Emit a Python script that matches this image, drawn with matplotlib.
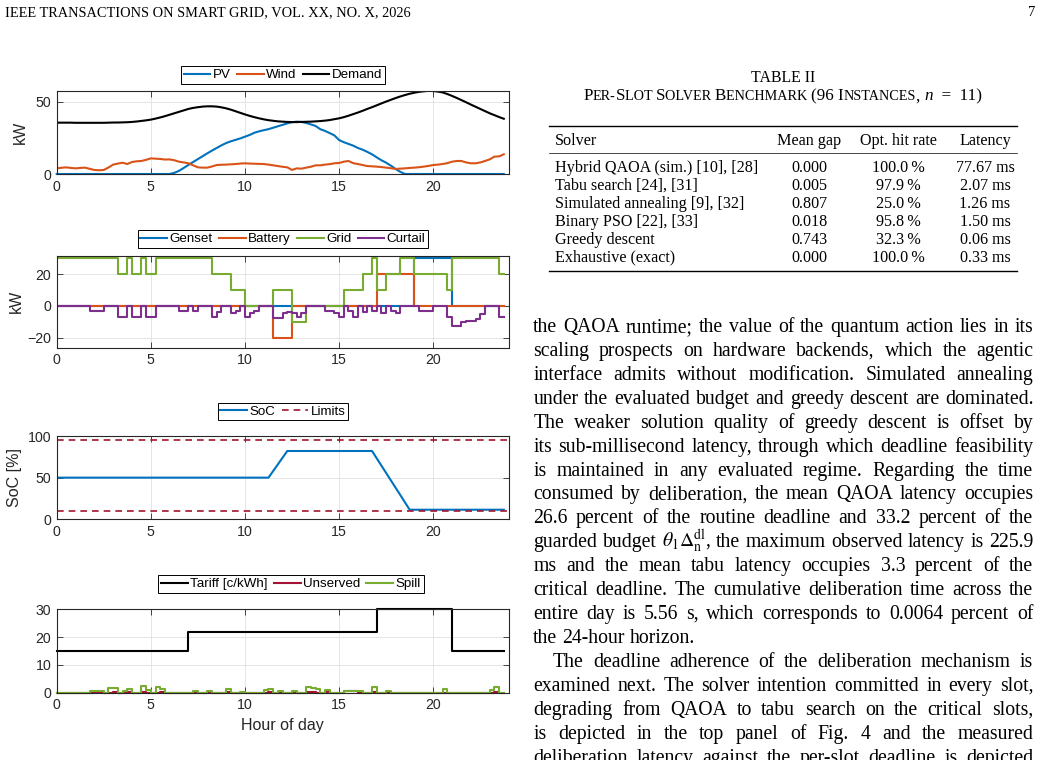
import numpy as np
import matplotlib
matplotlib.use('Agg')
import matplotlib.pyplot as plt
from matplotlib.lines import Line2D

# ---------------- data (96 quarter-hour slots) ----------------
hours = np.arange(96) * 0.25

demand = [35.5, 35.5, 35.5, 35.5, 35.4, 35.4, 35.4, 35.4, 35.4, 35.4, 35.4, 35.5, 35.6, 35.6, 35.7, 35.8,
          36.0, 36.3, 36.7, 37.1, 37.6, 38.3, 39.1, 40.0, 41.0, 42.0, 43.0, 44.0, 45.0, 45.7, 46.2, 46.6,
          46.8, 46.8, 46.6, 46.1, 45.4, 44.5, 43.4, 42.3, 41.2, 40.2, 39.3, 38.5, 37.8, 37.2, 36.8, 36.4,
          36.2, 36.0, 35.9, 35.9, 36.0, 36.1, 36.2, 36.4, 36.6, 36.9, 37.3, 37.9, 38.5, 39.3, 40.3, 41.4,
          42.5, 43.7, 45.0, 46.2, 47.5, 48.8, 50.1, 51.3, 52.5, 53.6, 54.6, 55.5, 56.2, 56.8, 57.2, 57.5,
          57.4, 57.0, 56.4, 55.3, 54.0, 52.6, 51.1, 49.6, 48.0, 46.5, 45.0, 43.5, 42.0, 40.7, 39.4, 38.2]

pv = [0, 0, 0, 0, 0, 0, 0, 0, 0, 0, 0, 0, 0, 0, 0, 0,
      0, 0, 0, 0, 0, 0, 0, 0, 0.0, 0.8, 2.2, 4.2, 6.3, 8.3, 10.3, 12.3,
      14.3, 16.2, 18.0, 19.8, 21.4, 22.6, 23.6, 24.6, 25.8, 27.0, 28.5, 29.5, 30.3, 31.0, 32.0, 33.0,
      34.0, 35.0, 35.8, 36.2, 36.0, 35.3, 34.3, 33.2, 31.0, 29.8, 28.3, 26.7, 23.5, 22.0, 20.8, 19.6,
      18.0, 16.8, 15.3, 13.6, 11.5, 9.5, 7.8, 5.8, 3.5, 1.5, 0.0, 0.0, 0, 0, 0, 0,
      0, 0, 0, 0, 0, 0, 0, 0, 0, 0, 0, 0, 0, 0, 0, 0]

wind = [3.9, 4.3, 4.6, 4.2, 3.9, 4.2, 4.4, 3.6, 2.8, 2.6, 2.8, 4.5, 6.5, 7.2, 7.8, 6.9,
        8.3, 8.8, 9.0, 9.8, 10.8, 10.6, 10.4, 10.0, 10.1, 9.5, 8.5, 8.0, 7.4, 6.0, 4.6, 4.4,
        4.4, 5.2, 6.2, 6.4, 6.5, 6.7, 6.9, 7.2, 7.4, 7.2, 7.1, 7.0, 6.9, 6.5, 6.0, 5.5,
        5.0, 4.6, 2.8, 3.9, 3.7, 4.4, 5.0, 6.0, 6.0, 6.5, 6.8, 7.4, 7.6, 8.5, 9.0, 7.5,
        6.9, 6.2, 5.5, 5.3, 5.1, 4.8, 4.4, 4.0, 3.5, 3.7, 3.9, 4.2, 4.4, 4.7, 5.1, 5.6,
        6.2, 6.5, 6.9, 7.5, 8.5, 9.0, 9.0, 8.0, 7.4, 7.4, 8.0, 9.0, 10.1, 12.0, 12.2, 13.6]

genset = [0, 0, 0, 0, 0, 0, 0, 0, 0, 0, 0, 0, 0, 0, 0, 0,
          0, 0, 0, 0, 0, 0, 0, 0, 0, 0, 0, 0, 0, 0, 0, 0,
          0, 0, 0, 0, 0, 0, 0, 0, 0, 0, 0, 0, 0, 0, 0, 0,
          0, 0, 0, 0, 0, 0, 0, 0, 0, 0, 0, 0, 0, 0, 0, 0,
          0, 0, 0, 0, 0, 0, 0, 0, 0, 0, 0, 0, 30, 30, 30, 30,
          30, 30, 30, 30, 0, 0, 0, 0, 0, 0, 0, 0, 0, 0, 0, 0]

battery = [0, 0, 0, 0, 0, 0, 0, 0, 0, 0, 0, 0, 0, 0, 0, 0,
           0, 0, 0, 0, 0, 0, 0, 0, 0, 0, 0, 0, 0, 0, 0, 0,
           0, 0, 0, 0, 0, 0, 0, 0, 0, 0, 0, 0, 0, 0, -20, -20,
           -20, -20, 0, 0, 0, 0, 0, 0, 0, 0, 0, 0, 0, 0, 0, 0,
           0, 0, 0, 0, 20, 20, 20, 20, 20, 20, 20, 20, 0, 0, 0, 0,
           0, 0, 0, 0, 0, 0, 0, 0, 0, 0, 0, 0, 0, 0, 0, 0]

grid = [30, 30, 30, 30, 30, 30, 30, 30, 30, 30, 30, 30, 30, 20, 20, 30,
        20, 20, 30, 20, 20, 30, 30, 30, 30, 30, 30, 30, 30, 30, 30, 30,
        30, 20, 20, 20, 20, 10, 10, 10, 0, 0, 0, 0, 0, 0, 10, 10,
        10, 10, -10, -10, -10, 0, 0, 0, 0, 0, 0, 0, 0, 10, 10, 10,
        10, 20, 20, 30, 10, 10, 20, 20, 20, 30, 30, 30, 20, 20, 20, 20,
        20, 20, 20, 10, 30, 30, 30, 30, 30, 30, 30, 30, 30, 30, 20, 20]

curtail = [0, 0, 0, 0, 0, 0, 0, -3, -3, -3, 0, 0, 0, -7, -7, 0,
           -7, -7, 0, -7, -7, 0, 0, 0, 0, 0, -3, -3, 0, -3, 0, 0,
           0, -7, -4, 0, 0, -4.5, -3, 0, -7, -4.5, -3, 0, 0, 0, -7.5, -7.5,
           -4.5, -3.5, -4.5, -7, -4.5, 0, 0, 0, 0, -3, -3, -4.5, -7, 0, -3, -7,
           0, -3.5, 0, -3, 0, -4.5, 0, -3, -4.5, 0, 0, 0, 0, -3, -3, -3,
           0, 0, 0, -7, -12.5, -12.5, -10, -9.5, -9.3, -8, -5, 0, 0, 0, -7, -7]

soc = [50, 50, 50, 50, 50, 50, 50, 50, 50, 50, 50, 50, 50, 50, 50, 50,
       50, 50, 50, 50, 50, 50, 50, 50, 50, 50, 50, 50, 50, 50, 50, 50,
       50, 50, 50, 50, 50, 50, 50, 50, 50, 50, 50, 50, 50, 50, 58, 66,
       74, 82, 82, 82, 82, 82, 82, 82, 82, 82, 82, 82, 82, 82, 82, 82,
       82, 82, 82, 82, 73.2, 64.4, 55.6, 46.8, 38.0, 29.2, 20.3, 11.5, 11.5, 11.5, 11.5, 11.5,
       11.5, 11.5, 11.5, 11.5, 11.5, 11.5, 11.5, 11.5, 11.5, 11.5, 11.5, 11.5, 11.5, 11.5, 11.5, 11.5]
soc_limits = [10, 95]

tariff = [15, 15, 15, 15, 15, 15, 15, 15, 15, 15, 15, 15, 15, 15, 15, 15,
          15, 15, 15, 15, 15, 15, 15, 15, 15, 15, 15, 15, 22, 22, 22, 22,
          22, 22, 22, 22, 22, 22, 22, 22, 22, 22, 22, 22, 22, 22, 22, 22,
          22, 22, 22, 22, 22, 22, 22, 22, 22, 22, 22, 22, 22, 22, 22, 22,
          22, 22, 22, 22, 30, 30, 30, 30, 30, 30, 30, 30, 30, 30, 30, 30,
          30, 30, 30, 30, 15, 15, 15, 15, 15, 15, 15, 15, 15, 15, 15, 15]

unserved = [0, 0, 0, 0, 0, 0, 0, 0, 0.4, 0.4, 0, 0, 0.4, 0, 0, 0.3,
            0, 0, 0.4, 0, 0, 0, 0.4, 0, 0, 0, 0, 0, 0, 0, 0, 0,
            0.3, 0, 0, 0, 0.3, 0, 0, 0, 0, 0, 0, 0, 0, 0.4, 0, 0,
            0, 0, 0, 0, 0, 0.4, 0.4, 0, 0, 0.3, 0, 0, 0, 0.5, 0.5, 0.5,
            0, 0, 0, 0.3, 0, 0, 0.3, 0, 0, 0, 0, 0, 0, 0, 0, 0,
            0, 0, 0, 0, 0, 0, 0, 0, 0, 0, 0, 0, 0, 0.4, 0, 0]

spill = [0, 0, 0, 0, 0, 0, 0, 0.6, 0.6, 0.6, 0, 1.6, 1.6, 0, 0.5, 1.5,
         0, 0, 2.3, 0.8, 0, 2.0, 1.4, 0, 0, 0, 0, 0, 0, 0.6, 0, 0,
         0.6, 0, 0, 0, 1.3, 0, 0, 0.4, 0, 0, 0, 0, 1.0, 1.4, 0, 0.6,
         0, 0, 0.5, 0, 0, 2.0, 1.8, 1.2, 0, 1.0, 0, 0, 0, 0.7, 0.7, 0.5,
         0.7, 0, 0, 1.9, 0, 0, 0.5, 0, 0, 0, 0, 0, 0, 0, 0, 0,
         0, 0, 1.3, 0, 0, 0, 0, 0, 0, 0, 0, 0, 1.0, 2.1, 0, 0]

xticks = [0, 5, 10, 15, 20]

table_cols = ['Solver', 'Mean gap', 'Opt. hit rate', 'Latency']
solvers = ['Hybrid QAOA (sim.) [10], [28]', 'Tabu search [24], [31]', 'Simulated annealing [9], [32]',
           'Binary PSO [22], [33]', 'Greedy descent', 'Exhaustive (exact)']
mean_gap = ['0.000', '0.005', '0.807', '0.018', '0.743', '0.000']
hit_rate = ['100.0', '97.9', '25.0', '95.8', '32.3', '100.0']
latency = ['77.67 ms', '2.07 ms', '1.26 ms', '1.50 ms', '0.06 ms', '0.33 ms']

body_lines = [
    "the QAOA runtime; the value of the quantum action lies in its",
    "scaling prospects on hardware backends, which the agentic",
    "interface admits without modification. Simulated annealing",
    "under the evaluated budget and greedy descent are dominated.",
    "The weaker solution quality of greedy descent is offset by",
    "its sub-millisecond latency, through which deadline feasibility",
    "is maintained in any evaluated regime. Regarding the time",
    "consumed by deliberation, the mean QAOA latency occupies",
    "26.6 percent of the routine deadline and 33.2 percent of the",
    r"guarded budget $\theta_1\Delta_{\mathrm{n}}^{\mathrm{dl}}$, the maximum observed latency is 225.9",
    "ms and the mean tabu latency occupies 3.3 percent of the",
    "critical deadline. The cumulative deliberation time across the",
    "entire day is 5.56 s, which corresponds to 0.0064 percent of",
    "the 24-hour horizon.",
    "The deadline adherence of the deliberation mechanism is",
    "examined next. The solver intention committed in every slot,",
    "degrading from QAOA to tabu search on the critical slots,",
    "is depicted in the top panel of Fig. 4 and the measured",
    "deliberation latency against the per-slot deadline is depicted",
]

# ---------------- style ----------------
W, H = 1043, 760
plt.rcParams['mathtext.fontset'] = 'stix'
SANS = ['Liberation Sans', 'DejaVu Sans']
SERIF = ['Liberation Serif', 'DejaVu Serif']
C_BLUE, C_ORANGE, C_GREEN = '#0072BD', '#D95319', '#77AC30'
C_PURPLE, C_RED = '#7E2F8E', '#A2142F'
AXC = '#262626'
LW = 1.5
AX_L, AX_R = 56.7, 508.5

fig = plt.figure(figsize=(W / 100, H / 100), dpi=100)
fig.patch.set_facecolor('white')
renderer = fig.canvas.get_renderer()


def fx(x):
    return x / W


def fy(y):
    return 1 - y / H


def make_ax(top, bottom, left=AX_L, right=AX_R):
    return fig.add_axes([fx(left), fy(bottom), (right - left) / W, (bottom - top) / H])


def style_ax(ax, ylim, yticks):
    ax.set_xlim(0, 24)
    ax.set_ylim(*ylim)
    ax.set_xticks(xticks)
    ax.set_yticks(yticks)
    ax.grid(True, color='#e0e0e0', linewidth=0.6)
    ax.set_axisbelow(True)
    ax.tick_params(direction='in', top=True, right=True, length=4, width=0.6,
                   colors=AXC, labelsize=10.2, pad=4)
    for sp in ax.spines.values():
        sp.set_color(AXC)
        sp.set_linewidth(0.8)
    for lab in ax.get_xticklabels() + ax.get_yticklabels():
        lab.set_family(SANS)


def add_legend(ax, handles, labels, yoff, xc=283.0):
    leg = ax.legend(handles, labels, loc='lower center',
                    bbox_to_anchor=((xc - AX_L) / (AX_R - AX_L), yoff),
                    ncol=len(labels), frameon=True, fancybox=False, edgecolor='black',
                    framealpha=1, prop={'family': SANS, 'size': 9.6}, borderpad=0.2,
                    handlelength=2.0, handletextpad=0.2, columnspacing=0.45,
                    borderaxespad=0)
    leg.get_frame().set_linewidth(0.7)
    return leg


def set_ylab(ax, text, xpix):
    ax.set_ylabel(text, family=SANS, fontsize=11.5, color=AXC, va='center')
    ax.yaxis.set_label_coords((xpix - AX_L) / (AX_R - AX_L), 0.5)


# ---- panel 1 ----
ax1 = make_ax(90.7, 174.0)
l1, = ax1.plot(hours, pv, color=C_BLUE, lw=LW, clip_on=False)
l2, = ax1.plot(hours, wind, color=C_ORANGE, lw=LW)
l3, = ax1.plot(hours, demand, color='black', lw=LW)
style_ax(ax1, (0, 57.6), [0, 50])
add_legend(ax1, [l1, l2, l3], ['PV', 'Wind', 'Demand'], 1.08)
set_ylab(ax1, 'kW', 20)

# ---- panel 2 ----
ax2 = make_ax(255.7, 347.7)
s1, = ax2.step(hours, genset, where='post', color=C_BLUE, lw=LW)
s2, = ax2.step(hours, battery, where='post', color=C_ORANGE, lw=LW)
s3, = ax2.step(hours, grid, where='post', color=C_GREEN, lw=LW)
s4, = ax2.step(hours, curtail, where='post', color=C_PURPLE, lw=LW)
style_ax(ax2, (-26.3, 31.7), [-20, 0, 20])
add_legend(ax2, [s1, s2, s3, s4], ['Genset', 'Battery', 'Grid', 'Curtail'], 1.084)
set_ylab(ax2, 'kW', 16)

# ---- panel 3 ----
ax3 = make_ax(436.0, 519.3)
q1, = ax3.plot(hours, soc, color=C_BLUE, lw=LW)
q2 = ax3.axhline(soc_limits[0], color=C_RED, lw=1.2, ls=(0, (4, 3)))
ax3.axhline(soc_limits[1], color=C_RED, lw=1.2, ls=(0, (4, 3)))
style_ax(ax3, (0, 100), [0, 50, 100])
add_legend(ax3, [q1, q2], ['SoC', 'Limits'], 1.19)
set_ylab(ax3, 'SoC [%]', 15)

# ---- panel 4 ----
ax4 = make_ax(609.3, 692.7)
t1, = ax4.step(hours, tariff, where='post', color='black', lw=LW, clip_on=False)
t2, = ax4.step(hours, unserved, where='post', color=C_RED, lw=LW, clip_on=False)
t3, = ax4.step(hours, spill, where='post', color=C_GREEN, lw=LW, clip_on=False)
style_ax(ax4, (0, 30), [0, 10, 20, 30])
add_legend(ax4, [t1, t2, t3], ['Tariff [c/kWh]', 'Unserved', 'Spill'], 1.195, xc=291.0)
ax4.set_xlabel('Hour of day', family=SANS, fontsize=11.5, color=AXC, labelpad=4)

# ---------------- page text ----------------


def ptext(x, y, s, **kw):
    kw.setdefault('family', SERIF)
    kw.setdefault('color', 'black')
    return fig.text(fx(x), fy(y), s, **kw)


def twidth(s, size, style='normal', family=SERIF):
    t = fig.text(0, 0, s, fontsize=size, family=family, style=style)
    w = t.get_window_extent(renderer).width
    t.remove()
    return w


# running header
ptext(5, 16, 'IEEE TRANSACTIONS ON SMART GRID, VOL. XX, NO. X, 2026', fontsize=10.4, va='baseline')
ptext(1035, 16, '7', fontsize=10.4, va='baseline', ha='right')

# table caption
CAP = 11.4
ptext(783, 82.5, 'TABLE II', fontsize=CAP, ha='center', va='baseline')
BC = 12.3
SC = 10.2
segs = [('P', BC, 'normal'), ('ER-', SC, 'normal'), ('S', BC, 'normal'), ('LOT ', SC, 'normal'),
        ('S', BC, 'normal'), ('OLVER ', SC, 'normal'), ('B', BC, 'normal'), ('ENCHMARK ', SC, 'normal'),
        ('(96 I', BC, 'normal'), ('NSTANCES', SC, 'normal'), (', ', BC, 'normal'),
        ('n', BC, 'italic'), ('  =  11)', BC, 'normal')]
widths = [twidth(s, sz, st) for s, sz, st in segs]
x = 783 - sum(widths) / 2
for (s, sz, st), w in zip(segs, widths):
    ptext(x, 100.5, s, fontsize=sz, style=st, va='baseline', ha='left')
    x += w


# table rules
def hrule(y, lw):
    fig.add_artist(Line2D([fx(549), fx(1017)], [fy(y), fy(y)], transform=fig.transFigure,
                          color='black', lw=lw))


hrule(126, 1.0)
hrule(152.5, 0.5)
hrule(270.7, 1.0)

TF = 11.6
col_x = [555, 809, 898, 985]
ptext(col_x[0], 145, table_cols[0], fontsize=TF, va='baseline')
for cx, name in zip(col_x[1:], table_cols[1:]):
    ptext(cx, 145, name, fontsize=TF, va='baseline', ha='center')
for i in range(len(solvers)):
    yb = 172 + 17.9 * i
    ptext(col_x[0], yb, solvers[i], fontsize=TF, va='baseline')
    ptext(col_x[1], yb, mean_gap[i], fontsize=TF, va='baseline', ha='center')
    ptext(col_x[2], yb, hit_rate[i] + '\u2009%', fontsize=TF, va='baseline', ha='center')
    ptext(col_x[3], yb, latency[i], fontsize=TF, va='baseline', ha='center')

# body text (justified)
BF = 14.2
X0, X1 = 533.3, 1033.3
space_w = twidth('a a', BF) - twidth('aa', BF)


def place_line(line, x0, x1, yb, justify):
    words = line.split(' ')
    ws = [twidth(w, BF) for w in words]
    if justify and len(words) > 1:
        gap = (x1 - x0 - sum(ws)) / (len(words) - 1)
    else:
        gap = space_w
    xx = x0
    for w, wd in zip(words, ws):
        ptext(xx, yb, w, fontsize=BF, va='baseline', ha='left')
        xx += wd + gap


for i, line in enumerate(body_lines):
    yb = 332 + 23.92 * i
    last = (i == 13)
    x0 = 553 if i == 14 else X0
    place_line(line, x0, X1, yb, not last)

fig.savefig('out.png', dpi=100, facecolor='white')
